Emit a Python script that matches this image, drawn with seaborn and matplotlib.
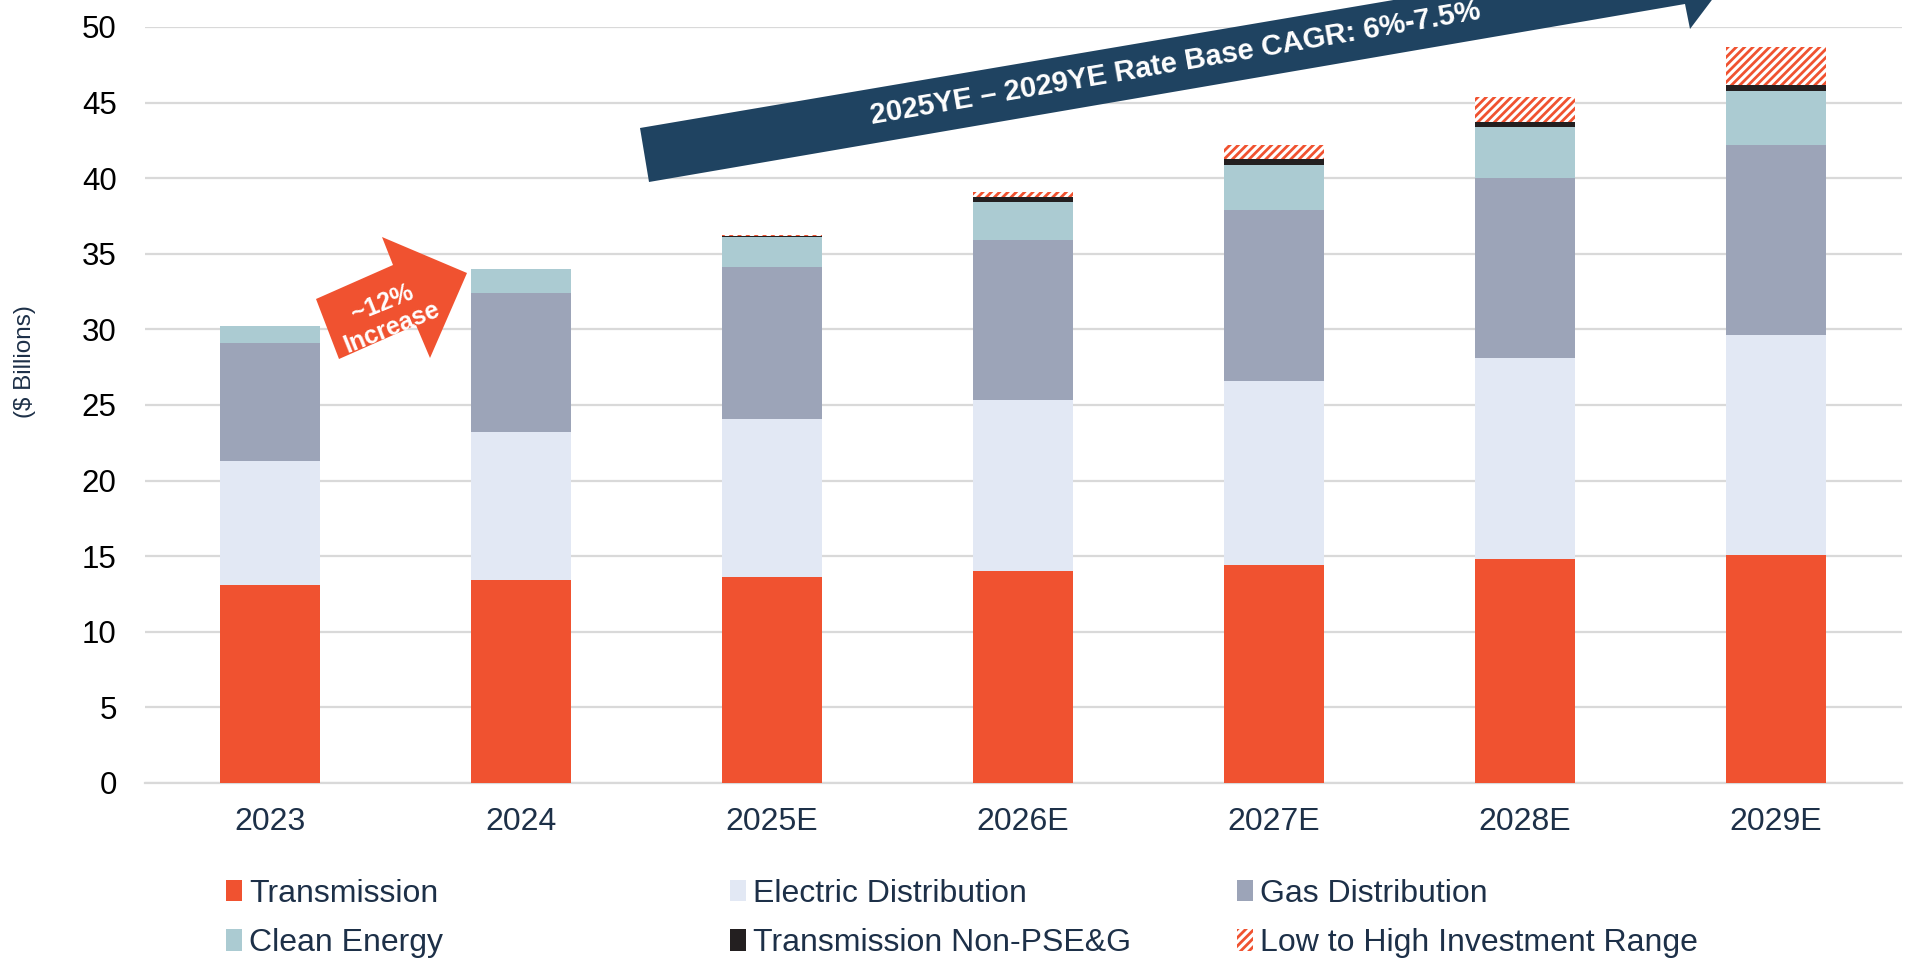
import pandas as pd
import matplotlib
matplotlib.use("Agg")
import matplotlib.pyplot as plt
from matplotlib.patches import Patch, Polygon
import seaborn as sns

# Rate base by segment ($ billions)
years = ["2023", "2024", "2025E", "2026E", "2027E", "2028E", "2029E"]
transmission = [13.1, 13.4, 13.6, 14.0, 14.4, 14.8, 15.1]
electric_dist = [8.2, 9.8, 10.5, 11.3, 12.2, 13.3, 14.5]
gas_dist = [7.8, 9.2, 10.0, 10.6, 11.3, 11.9, 12.6]
clean_energy = [1.1, 1.6, 2.0, 2.5, 3.0, 3.4, 3.6]
trans_non_pseg = [0.0, 0.0, 0.06, 0.34, 0.38, 0.35, 0.36]
invest_range = [0.0, 0.0, 0.07, 0.37, 0.9, 1.63, 2.55]

labels = ["Transmission", "Electric Distribution", "Gas Distribution",
          "Clean Energy", "Transmission Non-PSE&G", "Low to High Investment Range"]

ORANGE = "#F05230"
colors = [ORANGE, "#E2E8F4", "#9CA4B8", "#ABCBD2", "#231F20", "white"]
NAVY = "#1F4361"
TEXT = "#1D3048"

df = pd.DataFrame({
    "year": years,
    labels[0]: transmission,
    labels[1]: electric_dist,
    labels[2]: gas_dist,
    labels[3]: clean_energy,
    labels[4]: trans_non_pseg,
    labels[5]: invest_range,
})
cum = df[labels].cumsum(axis=1)
cum["year"] = years

sns.set_style("white")
plt.rcParams["font.family"] = ["Liberation Sans", "DejaVu Sans"]
plt.rcParams["hatch.linewidth"] = 2.0
plt.rcParams["hatch.color"] = ORANGE

W, H = 1909, 966
fig = plt.figure(figsize=(W / 100, H / 100), dpi=100)
ax = fig.add_axes([144.5 / W, 1 - 783 / H, 1757 / W, 756 / H])

# draw cumulative totals from the top segment down so each layer covers the one above
for lab, col in reversed(list(zip(labels, colors))):
    kw = dict(color=col, saturation=1, width=0.4, linewidth=0, zorder=3)
    if lab == labels[5]:
        kw.update(edgecolor=ORANGE, hatch="////")
    sns.barplot(data=cum, x="year", y=lab, order=years, ax=ax, **kw)

ax.set_xlim(-0.5, 6.5)
ax.set_ylim(0, 50)
ax.set_yticks(range(0, 51, 5))
ax.yaxis.grid(True, color="#D9D9D9", linewidth=1.6, zorder=0)
ax.set_axisbelow(True)
for s in ["top", "right", "left"]:
    ax.spines[s].set_visible(False)
ax.spines["bottom"].set_color("#D9D9D9")
ax.spines["bottom"].set_linewidth(1.6)
ax.set_xlabel("")
ax.set_ylabel("")
ax.tick_params(axis="y", length=0, pad=20, labelsize=22.5, labelcolor="black")
ax.tick_params(axis="x", length=0, pad=17, labelsize=23, labelcolor=TEXT)

fig.text(25 / W, 1 - 362 / H, "($ Billions)", rotation=90, ha="center", va="center",
         fontsize=17.5, color=TEXT)


def px(pts):
    return [(x / W, 1 - y / H) for x, y in pts]


# growth arrow between 2023 and 2024
small = [(339, 359), (316, 299), (393, 265), (382, 237), (467, 273), (430, 358), (416, 325)]
fig.add_artist(Polygon(px(small), closed=True, transform=fig.transFigure,
                       facecolor=ORANGE, edgecolor="none", zorder=5))
fig.text(387 / W, 1 - 315 / H, "~12%\nIncrease", rotation=22, ha="center", va="center",
         fontsize=18, fontweight="bold", color="white", linespacing=1.1, zorder=6,
         rotation_mode="anchor")

# CAGR banner arrow
banner = [(640, 128), (649, 182), (1685, 4), (1690, 29), (1736, -32), (1672, -73), (1676, -48)]
fig.add_artist(Polygon(px(banner), closed=True, transform=fig.transFigure,
                       facecolor=NAVY, edgecolor="none", zorder=5))
fig.text(1175 / W, 1 - 63 / H, "2025YE \u2013 2029YE Rate Base CAGR: 6%-7.5%", rotation=9.8,
         ha="center", va="center", fontsize=21, fontweight="bold", color="white",
         zorder=6, rotation_mode="anchor")

# legend, one column at a time
handles = [Patch(facecolor=c, edgecolor=ORANGE if i == 5 else c,
                 hatch="////" if i == 5 else None, linewidth=0)
           for i, c in enumerate(colors)]
col_x = [226, 730, 1237]
for k in range(3):
    idx = [k, k + 3]
    fig.legend([handles[i] for i in idx], [labels[i] for i in idx],
               loc="upper left", bbox_to_anchor=(col_x[k] / W, 1 - 879 / H),
               frameon=False, fontsize=23, labelcolor=TEXT, borderpad=0,
               borderaxespad=0, handlelength=0.5, handleheight=0.65,
               handletextpad=0.22, labelspacing=0.6)

fig.savefig("out.png", dpi=100)
